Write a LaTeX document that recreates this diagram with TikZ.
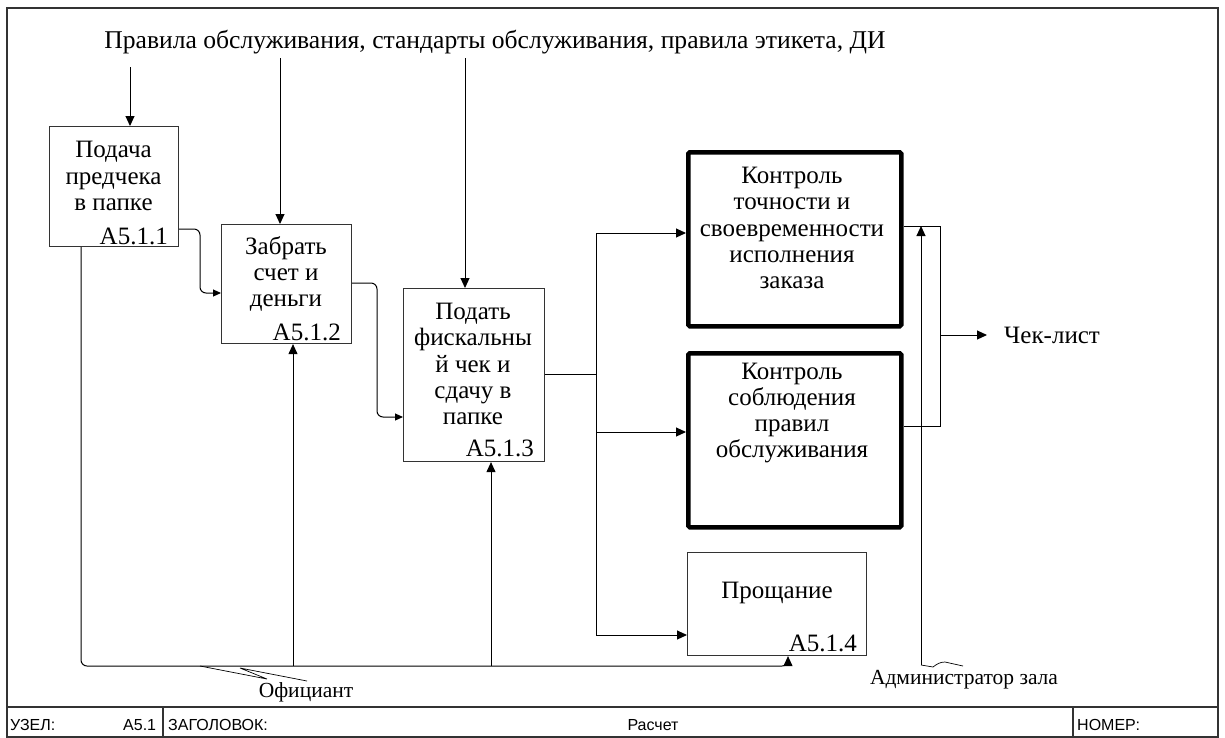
\documentclass[tikz,border=0pt]{standalone}
\usepackage{fontspec}
\setmainfont{Liberation Serif}
\newfontfamily\arialf{Liberation Sans}
\usetikzlibrary{arrows.meta}
\tikzset{
  box/.style={draw=black!80, line width=1.1pt, inner sep=0pt, anchor=north west},
  thickbox/.style={draw=black, line width=4.5pt, rounded corners=1.5pt, inner sep=0pt, anchor=north west},
  lbl/.style={font=\fontsize{25}{26.3}\selectfont, align=center, inner sep=0pt},
  code/.style={font=\fontsize{25}{26}\selectfont, anchor=base east, inner sep=0pt},
  side/.style={font=\fontsize{21.5}{24}\selectfont, inner sep=0pt},
  foot/.style={font=\arialf\fontsize{16}{18}\selectfont, inner sep=0pt},
  conn/.style={line width=1pt, rounded corners=6pt},
  arr/.style={conn, -{Triangle[length=10pt,width=9pt]}},
  frame/.style={line width=1.1pt, draw=black!80},
}
\begin{document}
\begin{tikzpicture}[x=1pt,y=-1pt]
\useasboundingbox (0,0) rectangle (1225,737);
% frame
\draw[frame] (7,8) rectangle (1218,737);
\draw[frame] (7,707) -- (1218,707);
\draw[frame] (163,707) -- (163,737);
\draw[frame] (1073,707) -- (1073,737);
\node[foot, anchor=base west] (fz) at (10,730) {УЗЕЛ:};
\node[foot, anchor=base west] (fn) at (123,730) {A5.1};
\node[foot, anchor=base west] (fh) at (168,730) {ЗАГОЛОВОК:};
\node[foot, anchor=base] (ft) at (653,730) {Расчет};
\node[foot, anchor=base west] (fnum) at (1077,730) {НОМЕР:};

% boxes
\node[box, minimum width=129pt, minimum height=120pt] (b1) at (49,126) {};
\node[box, minimum width=130pt, minimum height=119pt] (b2) at (221,224) {};
\node[box, minimum width=141pt, minimum height=173pt] (b3) at (403,288) {};
\node[thickbox, minimum width=213pt, minimum height=174pt] (b4) at (686,150) {};
\node[thickbox, minimum width=213pt, minimum height=174pt] (b5) at (686,351) {};
\node[box, minimum width=179pt, minimum height=103pt] (b6) at (687,552) {};

\node[lbl] (t1) at (113.5,176) {Подача\\предчека\\в папке};
\node[code] (k1) at (168,244) {A5.1.1};
\node[lbl] (t2) at (286,274) {Забрать\\счет и\\деньги};
\node[code] (k2) at (341,340) {A5.1.2};
\node[lbl] (t3) at (473,364) {Подать\\фискальны\\й чек и\\сдачу в\\папке};
\node[code] (k3) at (534,456) {A5.1.3};
\node[lbl] (t4) at (792,228) {Контроль\\точности и\\своевременности\\исполнения\\заказа};
\node[lbl] (t5) at (792,413) {Контроль\\соблюдения\\правил\\обслуживания};
\node[lbl] (t6) at (777,593) {Прощание};
\node[code] (k6) at (857,651) {A5.1.4};

% top control
\node[lbl, font=\fontsize{25.6}{27}\selectfont] (ctl) at (495,42) {Правила обслуживания, стандарты обслуживания, правила этикета, ДИ};
\coordinate (c1) at (130,67);
\coordinate (c2) at (280,58);
\coordinate (c3) at (465,58);
\draw[arr] (c1) -- (c1 |- b1.north);
\draw[arr] (c2) -- (c2 |- b2.north);
\draw[arr] (c3) -- (c3 |- b3.north);

% flows
\draw[arr, -{Triangle[length=8pt,width=7pt]}] (b1.east |- 0,229) -- (200,229) -- (200,293) -- (b2.west |- 0,293);
\draw[arr, -{Triangle[length=8pt,width=7pt]}] (b2.east |- 0,283) -- (377,283) -- (377,417) -- (b3.west |- 0,417);
\coordinate (j3) at (596,374);
\coordinate (jt) at (596,233);
\coordinate (jm) at (596,432);
\coordinate (jb) at (596,635);
\draw[conn] (b3.east |- j3) -- (j3);
\draw[arr, rounded corners=0pt] (j3) |- (b4.west |- jt);
\draw[arr, rounded corners=0pt] (jm) -- (b5.west |- jm);
\draw[arr, rounded corners=0pt] (j3) |- (b6.west |- jb);

% outputs
\coordinate (j4) at (940,335);
\draw[conn, rounded corners=0pt] (b4.east |- 0,226) -| (j4) |- (b5.east |- 0,426);
\node[lbl, anchor=west] (out) at (1004,335) {Чек-лист};
\draw[arr] (j4) -- ([xshift=-17pt]out.west);

% mechanism: Официант
\coordinate (m1) at (81,666);
\coordinate (m6) at (788,666);
\draw[arr] (b1.south -| m1) -- (m1) -- (m6) -- (m6 |- b6.south);
\draw[arr, rounded corners=0pt] (293,666) -- (b2.south -| 293,0);
\draw[arr, rounded corners=0pt] (491,666) -- (b3.south -| 491,0);
\draw[line width=0.7pt] (200,666) -- (267,679) -- (240,668) -- (307,681);
\node[side] (ofc) at (306,692) {Официант};

% mechanism: Администратор зала
\coordinate (m2) at (921,665);
\draw[arr, rounded corners=0pt] (m2) -- (m2 |- 0,226);
\draw[line width=0.7pt] (m2) -- (933,667) .. controls (937,664) and (940,662) .. (945,662) -- (963,666);
\node[side] (adm) at (964,680) {Администратор зала};
\end{tikzpicture}
\end{document}
